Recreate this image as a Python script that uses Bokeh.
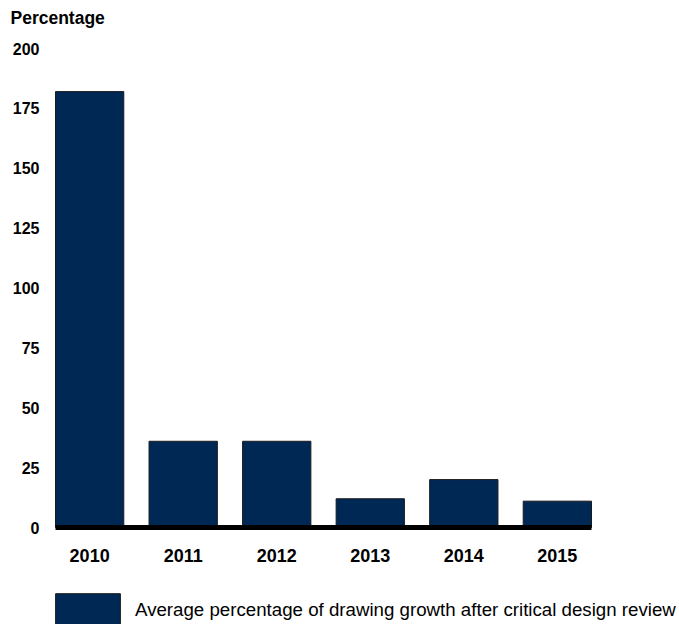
from bokeh.plotting import figure
from bokeh.models import (ColumnDataSource, Range1d, FixedTicker, Legend,
                          LegendItem, Label, LinearAxis)
from bokeh.embed import file_html
from bokeh.resources import INLINE

# Average drawing growth after critical design review, by year
years = ["2010", "2011", "2012", "2013", "2014", "2015"]
growth_pct = [182, 36, 36, 12, 20, 11]
y_ticks = [0, 25, 50, 75, 100, 125, 150, 175, 200]
series_name = "Average percentage of drawing growth after critical design review"
unit_caption = "Percentage"

FONT = "Liberation Sans"
NAVY = "#002855"

W, H = 679, 624
# plot area in pixels (left, right, top of 200, baseline)
PL, PR, PT, PB = 55, 591, 48, 527
bar_w = 0.73
n = len(years)

# the frame fills the whole canvas; ranges are chosen so the bar block
# sits at PL..PR and 0..200 maps to PB..PT
x_lo, x_hi = -bar_w / 2, n - 1 + bar_w / 2
px_x = (PR - PL) / (x_hi - x_lo)
px_y = (PB - PT) / 200.0
x_range = Range1d(x_lo - PL / px_x, x_hi + (W - PR) / px_x)
y_range = Range1d(-(H - PB) / px_y, 200 + PT / px_y)

xs = list(range(n))
source = ColumnDataSource(data=dict(x=xs, year=years, pct=growth_pct))

p = figure(width=W, height=H, output_backend="svg", toolbar_location=None,
           x_range=x_range, y_range=y_range, x_axis_type=None,
           y_axis_type=None, min_border=0)
p.outline_line_color = None
p.grid.grid_line_color = None
p.background_fill_color = "white"
p.border_fill_color = "white"

bars = p.vbar(x="x", top="pct", width=bar_w, bottom=0, source=source,
              fill_color=NAVY, line_color="#1a1a1a", line_width=1)

# x axis pinned at zero: thick black baseline under the bars, year labels
xa = LinearAxis(fixed_location=0, bounds=(x_lo, x_hi))
xa.ticker = FixedTicker(ticks=xs)
xa.major_label_overrides = {i: y for i, y in enumerate(years)}
xa.axis_line_color = "black"
xa.axis_line_width = 5
xa.major_tick_line_color = None
xa.minor_tick_line_color = None
xa.major_label_standoff = 15
xa.major_label_text_font = FONT
xa.major_label_text_font_style = "bold"
xa.major_label_text_font_size = "18px"
xa.major_label_text_color = "black"
p.add_layout(xa, "below")

# y axis pinned at the left edge of the bars: labels only
ya = LinearAxis(fixed_location=x_lo)
ya.ticker = FixedTicker(ticks=y_ticks)
ya.axis_line_color = None
ya.major_tick_line_color = None
ya.minor_tick_line_color = None
ya.major_label_standoff = 10
ya.major_label_text_font = FONT
ya.major_label_text_font_style = "bold"
ya.major_label_text_font_size = "16px"
ya.major_label_text_color = "black"
p.add_layout(ya, "left")

# unit caption above the value labels
p.add_layout(Label(x=10, y=H - 17, x_units="screen", y_units="screen",
                   text=unit_caption, text_font=FONT, text_font_style="bold",
                   text_font_size="17.5px", text_color="black",
                   text_baseline="middle", text_align="left"))

# legend below the bars; the bar swatch is drawn inset by 10% of its box
legend = Legend(items=[LegendItem(label=series_name, renderers=[bars])],
                orientation="horizontal", glyph_width=81, glyph_height=42,
                label_text_font=FONT, label_text_font_size="18.7px",
                label_text_color="black", label_standoff=7,
                border_line_color=None, background_fill_alpha=0,
                padding=0, margin=0, spacing=0, location=(PL - 8, -7))
p.add_layout(legend, "center")

open("out.html", "w").write(file_html(p, INLINE))
